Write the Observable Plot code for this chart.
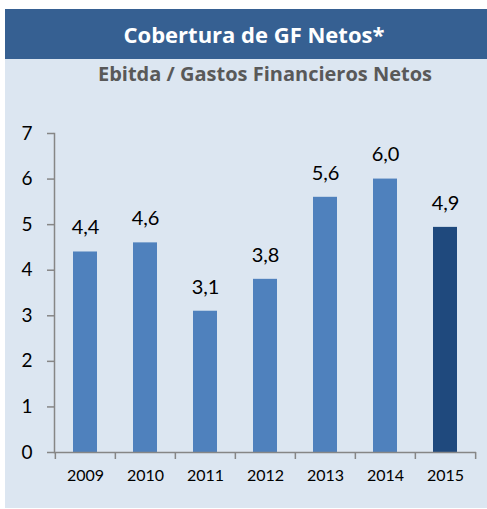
<!DOCTYPE html>
<html>
<head>
<meta charset="utf-8">
<script src="https://cdn.jsdelivr.net/npm/d3@7"></script>
<script src="https://cdn.jsdelivr.net/npm/@observablehq/plot@0.6"></script>
<style>
  html, body { margin: 0; padding: 0; background: #fff; }
  #panel { position: absolute; left: 5px; top: 9px; width: 482px; height: 499px; background: #dce6f1; font-family: Lato, "Open Sans", sans-serif; }
  #title { height: 50px; background: #366092; color: #fff; font-family: "Open Sans", sans-serif; font-weight: 700; font-size: 22px; text-align: center; line-height: 50px; padding-left: 16px; box-sizing: border-box; }
  #subtitle { height: 41px; color: #595959; font-family: "Open Sans", sans-serif; font-weight: 700; font-size: 20px; text-align: center; line-height: 30px; padding-left: 38px; box-sizing: border-box; }
  #chart svg { display: block; }
</style>
</head>
<body>
<div id="panel">
  <div id="title">Cobertura de GF Netos*</div>
  <div id="subtitle">Ebitda / Gastos Financieros Netos</div>
  <div id="chart"></div>
</div>
<script>
const years = ["2009", "2010", "2011", "2012", "2013", "2014", "2015"];
const values = [4.4, 4.6, 3.1, 3.8, 5.6, 6.0, 4.94];
const highlight = ["no", "no", "no", "no", "no", "no", "yes"];
const yTicks = [0, 1, 2, 3, 4, 5, 6, 7];

const data = years.map((y, i) => ({year: y, value: values[i], hl: highlight[i]}));
const fmt = v => v.toFixed(1).replace(".", ",");

const W = 482, H = 408, mL = 49, mR = 11, mT = 33, mB = 56;
const step = (W - mL - mR) / years.length;

const plot = Plot.plot({
  width: W,
  height: H,
  marginLeft: mL,
  marginRight: mR,
  marginTop: mT,
  marginBottom: mB,
  style: {background: "transparent", fontFamily: "Lato, 'Open Sans', sans-serif", color: "#000"},
  x: {domain: years, paddingInner: 0.6, paddingOuter: 0.3, label: null},
  y: {domain: [0, 7], label: null},
  color: {domain: ["no", "yes"], range: ["#4f81bd", "#1f497d"]},
  marks: [
    Plot.barY(data, {x: "year", y: "value", fill: "hl"}),
    Plot.text(data, {x: "year", y: "value", text: d => fmt(d.value), dy: -24, lineAnchor: "middle", fontSize: 20, fill: "#000"}),
    Plot.frame({anchor: "left", stroke: "#868686", strokeWidth: 1.5}),
    Plot.ruleY([0], {stroke: "#868686", strokeWidth: 1.5}),
    Plot.ruleX(years, {x: d => d, dx: -step / 2, y1: 0, y2: 0, insetBottom: -7, stroke: "#868686", strokeWidth: 1.5}),
    Plot.ruleX(years.slice(-1), {x: d => d, dx: step / 2, y1: 0, y2: 0, insetBottom: -7, stroke: "#868686", strokeWidth: 1.5}),
    Plot.axisY({ticks: yTicks, tickFormat: d => String(d), tickSize: 7, tickPadding: 15, stroke: "#868686", strokeWidth: 1.5, fill: "#000", fontSize: 19, label: null}),
    Plot.axisX({tickSize: 0, tickPadding: 17, fill: "#000", fontSize: 16, label: null})
  ]
});
document.getElementById("chart").appendChild(plot);
</script>
</body>
</html>
